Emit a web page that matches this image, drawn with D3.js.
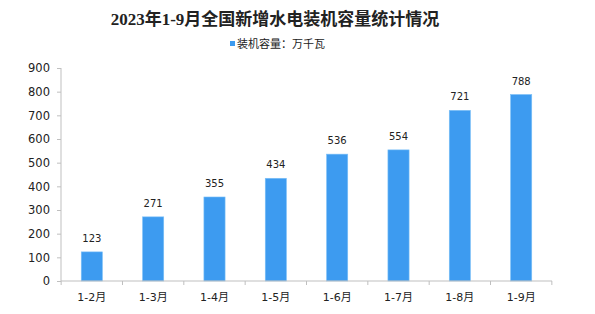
<!DOCTYPE html>
<html>
<head>
<meta charset="utf-8">
<script src="https://cdn.jsdelivr.net/npm/d3@7"></script>
<style>
  body { margin: 0; background: #fff; }
  svg { display: block; }
</style>
</head>
<body>
<svg id="chart" width="595" height="314"></svg>
<script>
// data
var categories = ["1-2月", "1-3月", "1-4月", "1-5月", "1-6月", "1-7月", "1-8月", "1-9月"];
var capacity = [123, 271, 355, 434, 536, 554, 721, 788];
var yTicks = [0, 100, 200, 300, 400, 500, 600, 700, 800, 900];
var titleText = "2023年1-9月全国新增水电装机容量统计情况";
var legendText = "装机容量：万千瓦";

var svgWidth = 595, svgHeight = 314;
var margin = { left: 61, right: 43, top: 68, bottom: 33 };
var barColour = "#3d9bf0";
var axisColour = "#bfbfbf";
var labelFont = "'DejaVu Sans', 'Noto Sans CJK SC', sans-serif";

var svg = d3.select("#chart");

var xScale = d3.scaleBand()
  .domain(categories)
  .range([margin.left, svgWidth - margin.right])
  .paddingInner(0.655)
  .paddingOuter(0.33);

var yScale = d3.scaleLinear()
  .domain([0, 900])
  .range([svgHeight - margin.bottom, margin.top]);

// title
svg.append("text")
  .attr("x", 275)
  .attr("y", 25)
  .attr("text-anchor", "middle")
  .style("font-family", "'Liberation Serif', 'Noto Sans CJK SC', serif")
  .style("font-weight", "bold")
  .style("font-size", "17px")
  .style("fill", "#222")
  .text(titleText);

// legend
svg.append("rect")
  .attr("x", 230)
  .attr("y", 41)
  .attr("width", 5)
  .attr("height", 5)
  .style("fill", barColour);

svg.append("text")
  .attr("x", 237)
  .attr("y", 48)
  .style("font-family", "'Noto Sans CJK SC', sans-serif")
  .style("font-size", "11px")
  .style("fill", "#222")
  .text(legendText);

// bars
svg.append("g").selectAll("rect")
  .data(capacity)
  .enter()
  .append("rect")
  .attr("x", function (d, i) { return xScale(categories[i]); })
  .attr("y", function (d) { return yScale(d); })
  .attr("width", xScale.bandwidth())
  .attr("height", function (d) { return yScale(0) - yScale(d); })
  .style("fill", barColour)
  .style("stroke", "#7cc0f7")
  .style("stroke-width", 0.6);

// value labels
svg.append("g").selectAll("text")
  .data(capacity)
  .enter()
  .append("text")
  .attr("x", function (d, i) { return xScale(categories[i]) + xScale.bandwidth() / 2; })
  .attr("y", function (d) { return yScale(d) - 10; })
  .attr("text-anchor", "middle")
  .style("font-family", labelFont)
  .style("font-size", "10px")
  .style("fill", "#222")
  .text(function (d) { return d; });

// y axis
var yAxis = d3.axisLeft(yScale).tickValues(yTicks).tickSize(4).tickPadding(7);
var gy = svg.append("g")
  .attr("transform", "translate(" + margin.left + ",0)")
  .call(yAxis);
gy.select(".domain").attr("stroke", axisColour).attr("d", "M0," + yScale(900) + "V" + yScale(0));
gy.selectAll(".tick line").attr("stroke", axisColour);
gy.selectAll(".tick text")
  .style("font-family", labelFont)
  .style("font-size", "11.5px")
  .style("fill", "#222");

// x axis with ticks on category boundaries
var gx = svg.append("g")
  .attr("transform", "translate(0," + yScale(0) + ")");
gx.append("path")
  .attr("d", "M" + margin.left + ",0H" + (svgWidth - margin.right))
  .attr("stroke", axisColour)
  .attr("fill", "none");
var step = xScale.step();
var bounds = d3.range(categories.length + 1).map(function (i) {
  return xScale(categories[0]) - step * xScale.paddingInner() / 2 + i * step;
});
gx.selectAll("line")
  .data(bounds)
  .enter()
  .append("line")
  .attr("x1", function (d) { return d; })
  .attr("x2", function (d) { return d; })
  .attr("y1", 0)
  .attr("y2", 4)
  .attr("stroke", axisColour);
gx.selectAll("text")
  .data(categories)
  .enter()
  .append("text")
  .attr("x", function (d) { return xScale(d) + xScale.bandwidth() / 2; })
  .attr("y", 20)
  .attr("text-anchor", "middle")
  .style("font-family", labelFont)
  .style("font-size", "11px")
  .style("fill", "#222")
  .text(function (d) { return d; });
</script>
</body>
</html>
